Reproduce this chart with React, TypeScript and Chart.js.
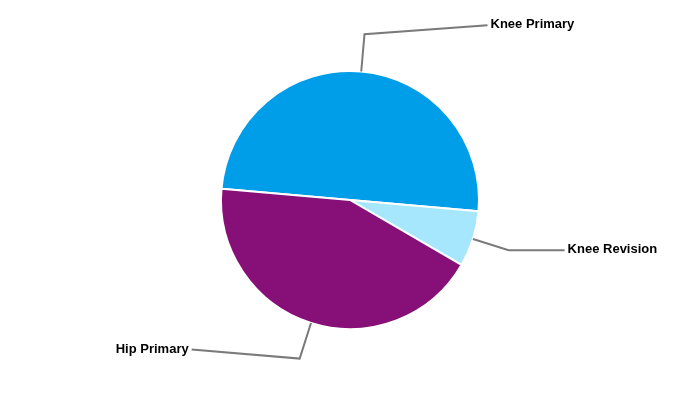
import React, { useEffect, useRef } from "react";
import { Chart, registerables } from "chart.js";

Chart.register(...registerables);

const categories = ["Knee Primary", "Knee Revision", "Hip Primary"];
const values = [50, 7, 43];
const colors = ["#009de9", "#a6e7fd", "#870f78"];

// label leader-line layout (horizontal run from elbow, vertical shift)
const labelRun = [123, 56, 108];
const labelRise = [-9, 0, -9];

const leaderPlugin = {
  id: "leaders",
  afterDatasetsDraw(chart: any) {
    const ctx = chart.ctx;
    const meta = chart.getDatasetMeta(0);
    ctx.save();
    ctx.strokeStyle = "#7a7a7a";
    ctx.lineWidth = 2;
    ctx.fillStyle = "#000";
    ctx.font = "bold 13px 'Liberation Sans', Arial, sans-serif";
    ctx.textBaseline = "middle";
    meta.data.forEach((arc: any, i: number) => {
      const { x, y, startAngle, endAngle, outerRadius } = arc.getProps(
        ["x", "y", "startAngle", "endAngle", "outerRadius"],
        true
      );
      const mid = (startAngle + endAngle) / 2;
      const r0 = outerRadius;
      const r1 = (outerRadius - 1) * 1.3;
      const sx = x + Math.cos(mid) * r0;
      const sy = y + Math.sin(mid) * r0;
      const ex = x + Math.cos(mid) * r1;
      const ey = y + Math.sin(mid) * r1;
      const right = Math.cos(mid) >= 0;
      const lx = ex + (right ? labelRun[i] : -labelRun[i]);
      const ly = ey + labelRise[i];
      ctx.beginPath();
      ctx.moveTo(sx, sy);
      ctx.lineTo(ex, ey);
      ctx.lineTo(lx, ly);
      ctx.stroke();
      ctx.textAlign = right ? "left" : "right";
      ctx.fillText(categories[i], lx + (right ? 3 : -3), ly - 0.5);
    });
    ctx.restore();
  },
};

export default function App() {
  const ref = useRef<HTMLCanvasElement | null>(null);
  useEffect(() => {
    document.body.style.margin = "0";
    const chart = new Chart(ref.current as HTMLCanvasElement, {
      type: "pie",
      data: {
        labels: categories,
        datasets: [
          {
            data: values,
            backgroundColor: colors,
            borderColor: "#ffffff",
            borderWidth: 2,
            radius: 129,
          } as any,
        ],
      },
      options: {
        animation: false,
        responsive: false,
        rotation: 275,
        layout: { padding: 0 },
        plugins: {
          legend: { display: false },
          tooltip: { enabled: false },
        },
      },
      plugins: [leaderPlugin],
    });
    return () => chart.destroy();
  }, []);
  return (
    <div style={{ width: 700, height: 400 }}>
      <canvas ref={ref} width={700} height={400} />
    </div>
  );
}
